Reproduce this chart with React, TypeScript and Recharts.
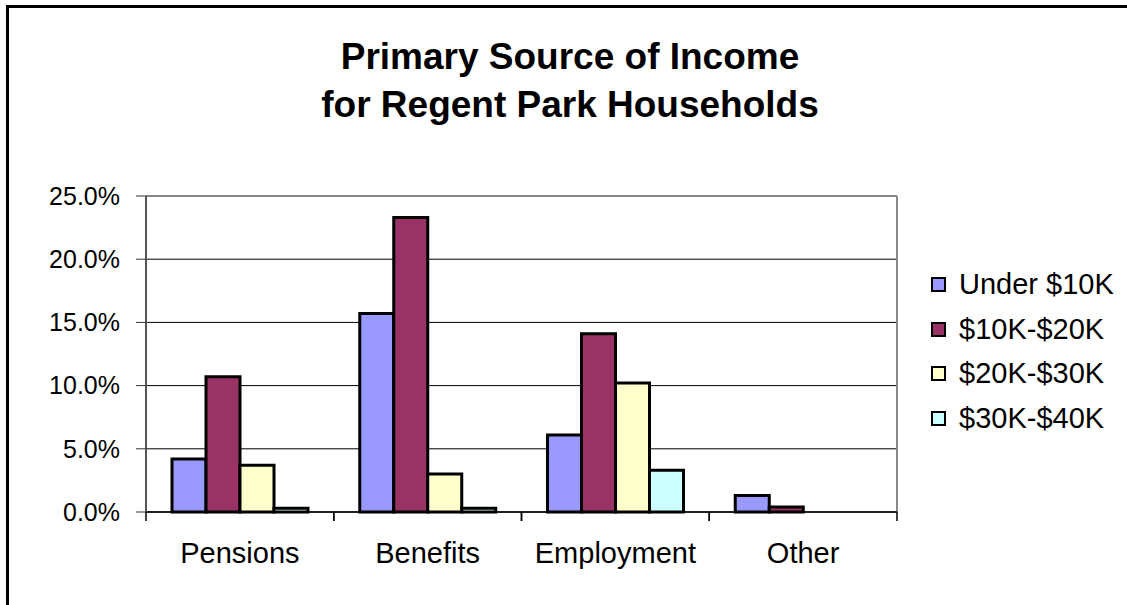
import React from 'react';
import { BarChart, Bar, XAxis, YAxis, CartesianGrid, Legend } from 'recharts';

const categories = ['Pensions', 'Benefits', 'Employment', 'Other'];
const seriesNames = ['Under $10K', '$10K-$20K', '$20K-$30K', '$30K-$40K'];
const under10k = [4.2, 15.7, 6.1, 1.3];
const k10to20 = [10.7, 23.3, 14.1, 0.4];
const k20to30 = [3.7, 3.0, 10.2, 0];
const k30to40 = [0.3, 0.3, 3.3, 0];
const yTicks = [0, 5, 10, 15, 20, 25];
const titleLines = ['Primary Source of Income', 'for Regent Park Households'];

const seriesColors = ['#9999FF', '#993366', '#FFFFCC', '#CCFFFF'];
const seriesKeys = ['s0', 's1', 's2', 's3'];
const seriesValues = [under10k, k10to20, k20to30, k30to40];

const data = categories.map((c, i) => {
  const row: Record<string, string | number> = { category: c };
  seriesKeys.forEach((k, j) => {
    row[k] = seriesValues[j][i];
  });
  return row;
});

const FONT = '"Liberation Sans", Arial, sans-serif';
const W = 1127;
const H = 605;
const MARGIN = { top: 196, right: 230, bottom: 0, left: 0 };
const Y_AXIS_W = 146;
const X_AXIS_H = 93;
const PLOT_W = W - MARGIN.right - MARGIN.left - Y_AXIS_W;
const PLOT_BOTTOM = H - MARGIN.bottom - X_AXIS_H;
const HALF_BAND = PLOT_W / categories.length / 2;

const XTick = (props: any) => {
  const { x, payload } = props;
  return (
    <g>
      <line x1={x - HALF_BAND} x2={x - HALF_BAND} y1={PLOT_BOTTOM} y2={PLOT_BOTTOM + 9} stroke="#000" strokeWidth={1.5} />
      <line x1={x + HALF_BAND} x2={x + HALF_BAND} y1={PLOT_BOTTOM} y2={PLOT_BOTTOM + 9} stroke="#000" strokeWidth={1.5} />
      <text x={x} y={PLOT_BOTTOM + 51} textAnchor="middle" fontSize={29} fontFamily={FONT} fill="#000">
        {payload.value}
      </text>
    </g>
  );
};

const LegendContent = () => (
  <div style={{ fontFamily: FONT, fontSize: 29, color: '#000' }}>
    {seriesNames.map((name, i) => (
      <div key={name} style={{ height: 44.7, display: 'flex', alignItems: 'center' }}>
        <span
          style={{
            display: 'inline-block',
            width: 11,
            height: 11,
            background: seriesColors[i],
            border: '2px solid #000',
            marginRight: 13,
          }}
        />
        <span style={{ lineHeight: 1 }}>{name}</span>
      </div>
    ))}
  </div>
);

export default function App() {
  return (
    <div
      style={{
        position: 'absolute',
        left: 0,
        top: 0,
        width: W,
        height: H,
        overflow: 'hidden',
        background: '#fff',
      }}
    >
      <div
        style={{
          position: 'absolute',
          left: 6,
          top: 5,
          width: 1300,
          height: 800,
          border: '3px solid #000',
          boxSizing: 'border-box',
        }}
      />
      {titleLines.map((t, i) => (
        <div
          key={t}
          style={{
            position: 'absolute',
            left: 0,
            width: 1140,
            top: 38 + i * 48,
            textAlign: 'center',
            fontFamily: FONT,
            fontWeight: 'bold',
            fontSize: 37,
            lineHeight: 1,
            color: '#000',
          }}
        >
          {t}
        </div>
      ))}
      <div style={{ position: 'absolute', left: 0, top: 0 }}>
        <BarChart width={W} height={H} data={data} margin={MARGIN} barCategoryGap={26} barGap={0}>
          <CartesianGrid vertical={false} stroke="#000" strokeWidth={1} />
          <CartesianGrid
            horizontal={false}
            verticalCoordinatesGenerator={({ offset }: any) => [offset.left + offset.width]}
            stroke="#888"
            strokeWidth={2}
          />
          <CartesianGrid
            vertical={false}
            horizontalCoordinatesGenerator={({ offset }: any) => [offset.top]}
            stroke="#888"
            strokeWidth={2}
          />
          <XAxis
            dataKey="category"
            height={X_AXIS_H}
            interval={0}
            tickLine={false}
            axisLine={{ stroke: '#000', strokeWidth: 1.5 }}
            tick={<XTick />}
          />
          <YAxis
            width={Y_AXIS_W}
            domain={[0, 25]}
            ticks={yTicks}
            interval={0}
            tickFormatter={(v: number) => v.toFixed(1) + '%'}
            tick={{ fontSize: 25, fill: '#000', fontFamily: FONT }}
            tickSize={10}
            tickMargin={16}
            axisLine={{ stroke: '#555', strokeWidth: 2 }}
            tickLine={{ stroke: '#333', strokeWidth: 1 }}
          />
          <Legend
            layout="vertical"
            align="center"
            verticalAlign="middle"
            content={<LegendContent />}
            wrapperStyle={{ left: 931, top: 262, width: 196 }}
          />
          {seriesKeys.map((k, i) => (
            <Bar
              key={k}
              dataKey={k}
              name={seriesNames[i]}
              fill={seriesColors[i]}
              stroke="#000"
              strokeWidth={3}
              isAnimationActive={false}
            />
          ))}
        </BarChart>
      </div>
    </div>
  );
}
